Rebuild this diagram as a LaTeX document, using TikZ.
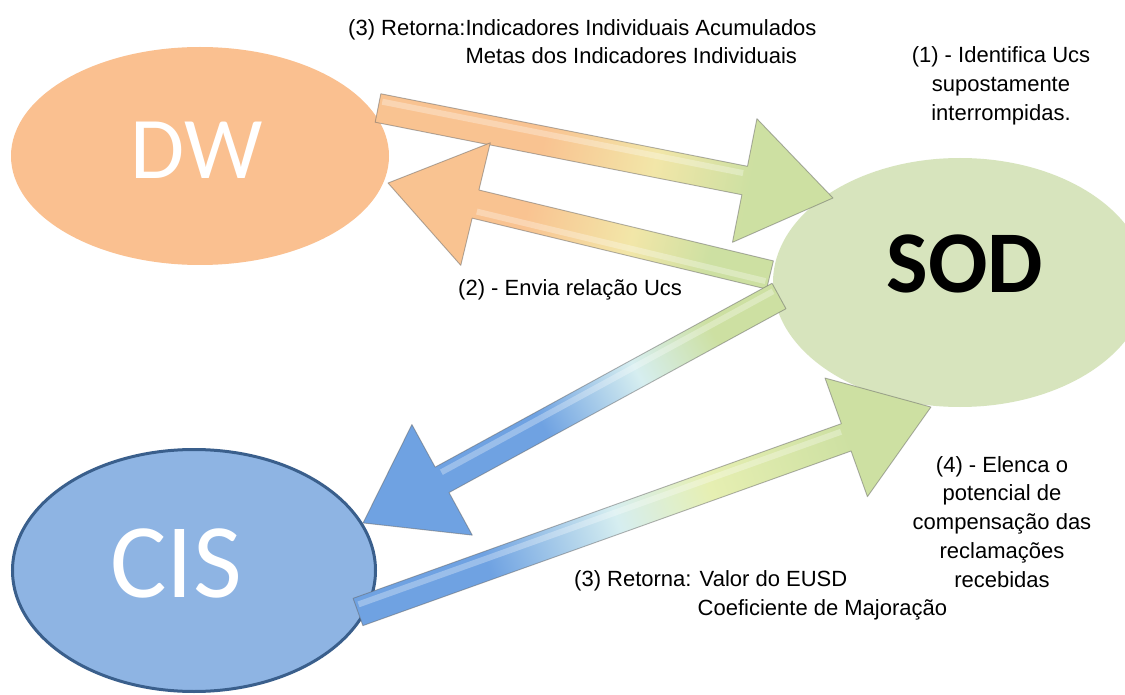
\documentclass[tikz,border=0pt]{standalone}
\usepackage{fontspec}
\setmainfont{Liberation Sans}
\newfontfamily\calfont{Carlito}
\usetikzlibrary{shapes.geometric}

\definecolor{peach}{HTML}{FAC090}
\definecolor{sodg}{HTML}{D7E4BD}
\definecolor{cisb}{HTML}{8EB4E3}
\definecolor{cisedge}{HTML}{3A5F8C}
\definecolor{apeach}{HTML}{F9C391}
\definecolor{ayel}{HTML}{F2E6A8}
\definecolor{agreen}{HTML}{CDE0A2}
\definecolor{ablue}{HTML}{6FA2E2}
\definecolor{apale}{HTML}{D6EEF0}
\definecolor{ayg}{HTML}{E6EFB2}

\pgfdeclarehorizontalshading{shA}{100bp}{color(0bp)=(apeach); color(42bp)=(apeach); color(56bp)=(ayel); color(68bp)=(agreen); color(100bp)=(agreen)}
\pgfdeclarehorizontalshading{shB}{100bp}{color(0bp)=(agreen); color(30bp)=(agreen); color(42bp)=(ayel); color(58bp)=(apeach); color(100bp)=(apeach)}
\pgfdeclarehorizontalshading{shC}{100bp}{color(0bp)=(agreen); color(28bp)=(agreen); color(40bp)=(apale); color(55bp)=(ablue); color(100bp)=(ablue)}
\pgfdeclarehorizontalshading{shD}{100bp}{color(0bp)=(ablue); color(33bp)=(ablue); color(47bp)=(apale); color(57bp)=(ayg); color(72bp)=(agreen); color(100bp)=(agreen)}

\makeatletter
\newcommand\blockarrow[4]{%
  \pgfmathanglebetweenpoints{\pgfpointanchor{#1}{center}}{\pgfpointanchor{#2}{center}}%
  \let\baang\pgfmathresult
  \pgfpointdiff{\pgfpointanchor{#1}{center}}{\pgfpointanchor{#2}{center}}%
  \pgfmathsetmacro\balen{veclen(\pgf@x,\pgf@y)}%
  \pgfmathsetmacro\babase{\balen-90}%
  \begin{scope}[shift={(#1)}, rotate=\baang, x=1pt, y=1pt]
    \shade[shading=#3, shading angle=\baang] (0,-14.5) -- (\babase,-14.5) -- (\babase,-63) -- (\balen,0) -- (\babase,63) -- (\babase,14.5) -- (0,14.5) -- cycle;
    \draw[white, opacity=0.3, line width=6pt] (3,#4) -- ({\babase-3},#4);
    \draw[arrowline] (0,-14.5) -- (\babase,-14.5) -- (\babase,-63) -- (\balen,0) -- (\babase,63) -- (\babase,14.5) -- (0,14.5) -- cycle;
  \end{scope}}
\makeatother

\begin{document}
\begin{tikzpicture}[x=1pt,y=-1pt,
  lbl/.style={font=\fontsize{22}{28.7}\selectfont, inner sep=0pt, text=black},
  arrowline/.style={draw=black!60, draw opacity=0.5, line width=0.9pt, line join=round},
  bubble/.style={ellipse, inner sep=0pt}]
\useasboundingbox (0,0) rectangle (1125,695);
\fill[white] (0,0) rectangle (1125,695);
\clip (0,0) rectangle (1125,695);

\node[bubble, fill=peach, minimum width=378pt, minimum height=218pt,
  label={[font=\calfont\fontsize{88}{88}\selectfont, text=white, xshift=-3.5pt, yshift=5.5pt]center:DW}] (dw) at (200,156) {};
\node[bubble, fill=cisb, draw=cisedge, line width=3pt, minimum width=363pt, minimum height=242pt,
  label={[font=\calfont\fontsize{106}{106}\selectfont, text=white, xshift=-18pt, yshift=7.5pt]center:CIS}] (cis) at (194,570.5) {};
\node[bubble, fill=sodg, minimum width=374pt, minimum height=249pt,
  label={[font=\calfont\bfseries\fontsize{88}{88}\selectfont, text=black, xshift=5pt, yshift=19pt]center:SOD}] (sod) at (960,282.5) {};

\coordinate (aS) at (378,108);
\coordinate (aE) at (833,198);
\coordinate (bS) at (770,275);
\coordinate (bE) at (388,183);
\coordinate (cS) at (779,296);
\coordinate (cE) at (363,523);
\coordinate (dS) at (358,612);
\coordinate (dE) at (931,407);

\blockarrow{aS}{aE}{shA}{7}
\blockarrow{bS}{bE}{shB}{7}
\blockarrow{cS}{cE}{shC}{-7}
\blockarrow{dS}{dE}{shD}{7}

\node[lbl, anchor=base west, align=left] (t3a) at (348,64) {(3) Retorna:Indicadores Individuais Acumulados\\\hphantom{(3) Retorna:}Metas dos Indicadores Individuais};
\node[lbl, anchor=base, align=center] (t1) at (1001,120.4) {(1) - Identifica Ucs\\supostamente\\interrompidas.};
\node[lbl, anchor=base west] (t2) at (458,295) {(2) - Envia relação Ucs};
\node[lbl, anchor=base, align=center] (t4) at (1002,587) {(4) - Elenca o\\potencial de\\compensação das\\reclamações\\recebidas};
\node[lbl, anchor=base west, align=left] (t3b) at (574,615) {(3) Retorna: Valor do EUSD\\\hphantom{(3) Retorna:\ }Coeficiente de Majoração};
\end{tikzpicture}
\end{document}
